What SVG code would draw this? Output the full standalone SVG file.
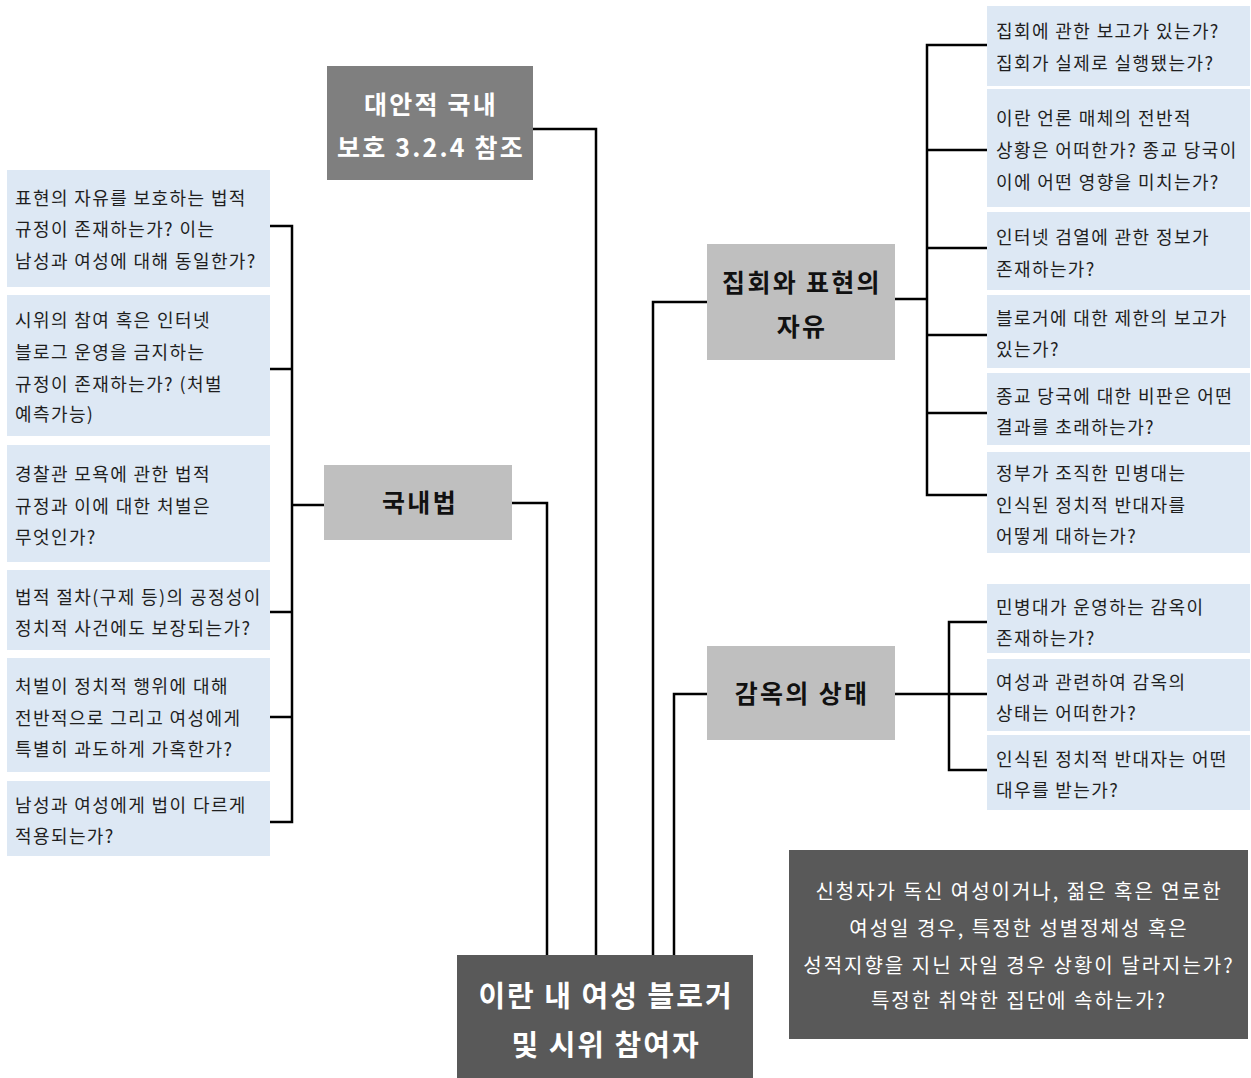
<svg xmlns="http://www.w3.org/2000/svg" width="1251" height="1078" viewBox="0 0 1251 1078">
<style>
text{font-family:"Noto Sans CJK KR","Noto Sans",sans-serif}
.q{fill:#dde8f4}
.qt{font-size:18px;fill:#1f1f1f;letter-spacing:1.4px}
.mid{fill:#bfbfbf}
.mt{font-size:25px;font-weight:bold;fill:#111;text-anchor:middle;letter-spacing:2.3px}
.dark{fill:#595959}
.gray{fill:#7f7f7f}
.wt{fill:#fff;text-anchor:middle}
.c{fill:none;stroke:#000;stroke-width:2.5}
</style>
<rect width="1251" height="1078" fill="#fff"/>
<g id="connectors">
<path class="c" d="M533,129 H596 V955"/>
<path class="c" d="M512,503 H547 V955"/>
<path class="c" d="M653,955 V302 H707"/>
<path class="c" d="M674,955 V694 H707"/>
<path class="c" d="M324,505 H292 M270,226 H292 V822 H270 M270,369 H292 M270,612 H292 M270,717 H292"/>
<path class="c" d="M895,299 H927 M987,45 H927 V495 H987 M927,150 H987 M927,248 H987 M927,335 H987 M927,413 H987"/>
<path class="c" d="M895,694 H949 M987,622 H949 V770 H987 M949,694 H987"/>
</g>
<g id="n_top"><rect class="gray" x="327" y="66" width="206" height="114"/>
<text class="wt" font-size="25" font-weight="bold" letter-spacing="2.2"><tspan x="431" y="114">대안적 국내</tspan><tspan x="431" y="157">보호 3.2.4 참조</tspan></text></g>
<g id="n_center"><rect class="dark" x="457" y="955" width="296" height="123"/>
<text class="wt" font-size="29" font-weight="bold" letter-spacing="2"><tspan x="606" y="1007">이란 내 여성 블로거</tspan><tspan x="606" y="1056">및 시위 참여자</tspan></text></g>
<g id="n_law"><rect class="mid" x="324" y="465" width="188" height="75"/>
<text class="mt" x="420" y="512">국내법</text></g>
<g id="n_free"><rect class="mid" x="707" y="244" width="188" height="116"/>
<text class="mt"><tspan x="802" y="292">집회와 표현의</tspan><tspan x="802" y="336">자유</tspan></text></g>
<g id="n_prison"><rect class="mid" x="707" y="646" width="188" height="94"/>
<text class="mt" x="802" y="703">감옥의 상태</text></g>
<g id="n_note"><rect class="dark" x="789" y="850" width="459" height="189"/>
<text class="wt" font-size="20" letter-spacing="2"><tspan x="1019" y="899">신청자가 독신 여성이거나, 젊은 혹은 연로한</tspan><tspan x="1019" y="936">여성일 경우, 특정한 성별정체성 혹은</tspan><tspan x="1019" y="973">성적지향을 지닌 자일 경우 상황이 달라지는가?</tspan><tspan x="1019" y="1008">특정한 취약한 집단에 속하는가?</tspan></text></g>
<g id="l1"><rect class="q" x="7" y="170" width="263" height="117"/><text class="qt"><tspan x="15" y="205">표현의 자유를 보호하는 법적</tspan><tspan x="15" y="236">규정이 존재하는가? 이는</tspan><tspan x="15" y="268">남성과 여성에 대해 동일한가?</tspan></text></g>
<g id="l2"><rect class="q" x="7" y="295" width="263" height="141"/><text class="qt"><tspan x="15" y="327">시위의 참여 혹은 인터넷</tspan><tspan x="15" y="359">블로그 운영을 금지하는</tspan><tspan x="15" y="391">규정이 존재하는가? (처벌</tspan><tspan x="15" y="421">예측가능)</tspan></text></g>
<g id="l3"><rect class="q" x="7" y="445" width="263" height="117"/><text class="qt"><tspan x="15" y="481">경찰관 모욕에 관한 법적</tspan><tspan x="15" y="513">규정과 이에 대한 처벌은</tspan><tspan x="15" y="544">무엇인가?</tspan></text></g>
<g id="l4"><rect class="q" x="7" y="570" width="263" height="80"/><text class="qt"><tspan x="15" y="604">법적 절차(구제 등)의 공정성이</tspan><tspan x="15" y="635">정치적 사건에도 보장되는가?</tspan></text></g>
<g id="l5"><rect class="q" x="7" y="658" width="263" height="114"/><text class="qt"><tspan x="15" y="693">처벌이 정치적 행위에 대해</tspan><tspan x="15" y="725">전반적으로 그리고 여성에게</tspan><tspan x="15" y="756">특별히 과도하게 가혹한가?</tspan></text></g>
<g id="l6"><rect class="q" x="7" y="781" width="263" height="75"/><text class="qt"><tspan x="15" y="812">남성과 여성에게 법이 다르게</tspan><tspan x="15" y="843">적용되는가?</tspan></text></g>
<g id="r1"><rect class="q" x="987" y="6" width="263" height="80"/><text class="qt"><tspan x="996" y="38">집회에 관한 보고가 있는가?</tspan><tspan x="996" y="70">집회가 실제로 실행됐는가?</tspan></text></g>
<g id="r2"><rect class="q" x="987" y="89" width="263" height="118"/><text class="qt"><tspan x="996" y="125">이란 언론 매체의 전반적</tspan><tspan x="996" y="157">상황은 어떠한가? 종교 당국이</tspan><tspan x="996" y="189">이에 어떤 영향을 미치는가?</tspan></text></g>
<g id="r3"><rect class="q" x="987" y="212" width="263" height="78"/><text class="qt"><tspan x="996" y="244">인터넷 검열에 관한 정보가</tspan><tspan x="996" y="276">존재하는가?</tspan></text></g>
<g id="r4"><rect class="q" x="987" y="295" width="263" height="73"/><text class="qt"><tspan x="996" y="325">블로거에 대한 제한의 보고가</tspan><tspan x="996" y="356">있는가?</tspan></text></g>
<g id="r5"><rect class="q" x="987" y="373" width="263" height="72"/><text class="qt"><tspan x="996" y="403">종교 당국에 대한 비판은 어떤</tspan><tspan x="996" y="434">결과를 초래하는가?</tspan></text></g>
<g id="r6"><rect class="q" x="987" y="452" width="263" height="101"/><text class="qt"><tspan x="996" y="480">정부가 조직한 민병대는</tspan><tspan x="996" y="512">인식된 정치적 반대자를</tspan><tspan x="996" y="543">어떻게 대하는가?</tspan></text></g>
<g id="p1"><rect class="q" x="987" y="584" width="263" height="69"/><text class="qt"><tspan x="996" y="614">민병대가 운영하는 감옥이</tspan><tspan x="996" y="645">존재하는가?</tspan></text></g>
<g id="p2"><rect class="q" x="987" y="659" width="263" height="72"/><text class="qt"><tspan x="996" y="689">여성과 관련하여 감옥의</tspan><tspan x="996" y="720">상태는 어떠한가?</tspan></text></g>
<g id="p3"><rect class="q" x="987" y="735" width="263" height="75"/><text class="qt"><tspan x="996" y="766">인식된 정치적 반대자는 어떤</tspan><tspan x="996" y="797">대우를 받는가?</tspan></text></g>
</svg>
